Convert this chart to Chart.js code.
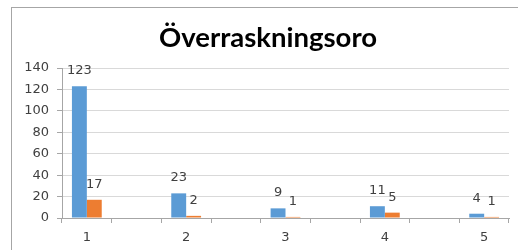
<!DOCTYPE html>
<html>
<head>
<meta charset="utf-8">
<script src="https://cdn.jsdelivr.net/npm/chart.js@4/dist/chart.umd.min.js"></script>
<style>
  html, body { margin: 0; padding: 0; background: #fff; }
  #wrap { position: relative; width: 518px; height: 250px; }
  #frame { position: absolute; left: 11px; top: 7px; right: 0; bottom: 0;
           border-top: 1px solid #a6a6a6; border-left: 1px solid #a6a6a6; }
  canvas { position: absolute; left: 0; top: 0; }
</style>
</head>
<body>
<div id="wrap">
  <div id="frame"></div>
  <canvas id="chart" width="518" height="250"></canvas>
</div>
<script>
// kategorier (tomma mellanrum mellan 1..5, som i originalet)
const kategorier = ['1', '', '2', '', '3', '', '4', '', '5'];
const serieBla = [123, null, 23, null, 9, null, 11, null, 4];
const serieOrange = [17, null, 2, null, 1, null, 5, null, 1];
const yTicks = [0, 20, 40, 60, 80, 100, 120, 140];

const textFarg = '#404040';

// etiketter ovanför staplarna
const vardeEtiketter = {
    id: 'vardeEtiketter',
    afterLayout(chart) {
        // titeln centreras över ramen, inte över ritytan
        chart.titleBlock.left = 18;
        chart.titleBlock.right = 518;
    },
    afterDatasetsDraw(chart) {
        const ctx = chart.ctx;
        ctx.save();
        ctx.font = "13px 'DejaVu Sans'";
        ctx.fillStyle = textFarg;
        ctx.textAlign = 'center';
        ctx.textBaseline = 'bottom';
        chart.data.datasets.forEach((ds, i) => {
            chart.getDatasetMeta(i).data.forEach((bar, j) => {
                if (ds.data[j] == null) return;
                ctx.fillText(String(ds.data[j]), bar.x, bar.y - 9);
            });
        });
        ctx.restore();
    }
};

new Chart(document.getElementById('chart'), {
    type: 'bar',
    data: {
        labels: kategorier,
        datasets: [
            { label: 'Serie 1', data: serieBla, backgroundColor: '#5b9bd5' },
            { label: 'Serie 2', data: serieOrange, backgroundColor: '#ed7d31' }
        ]
    },
    options: {
        responsive: false,
        animation: false,
        events: [],
        layout: { padding: { left: 0, right: 9, top: 0, bottom: 0 } },
        datasets: { bar: { categoryPercentage: 0.6, barPercentage: 1.0 } },
        plugins: {
            legend: { display: false },
            tooltip: { enabled: false },
            title: {
                display: true,
                text: 'Överraskningsoro',
                color: '#000',
                font: { family: 'Lato', size: 27.5, weight: 'bold', lineHeight: 1.2 },
                padding: { top: 22, bottom: 13 }
            }
        },
        scales: {
            x: {
                offset: true,
                grid: { offset: true, drawOnChartArea: false, drawTicks: true, tickLength: 5, color: '#a6a6a6' },
                border: { color: '#a6a6a6' },
                ticks: { autoSkip: false, maxRotation: 0, padding: 7, color: textFarg,
                         font: { family: 'DejaVu Sans', size: 13 } },
                afterFit(scale) { scale.height = 32; }
            },
            y: {
                min: 0,
                max: 140,
                afterBuildTicks(scale) { scale.ticks = yTicks.map(v => ({ value: v })); },
                grid: { color: '#d9d9d9', tickLength: 5, tickColor: '#a6a6a6' },
                border: { color: '#a6a6a6' },
                ticks: { padding: 8, color: textFarg, font: { family: 'DejaVu Sans', size: 13 } },
                afterFit(scale) { scale.width = 62; }
            }
        }
    },
    plugins: [vardeEtiketter]
});
</script>
</body>
</html>
